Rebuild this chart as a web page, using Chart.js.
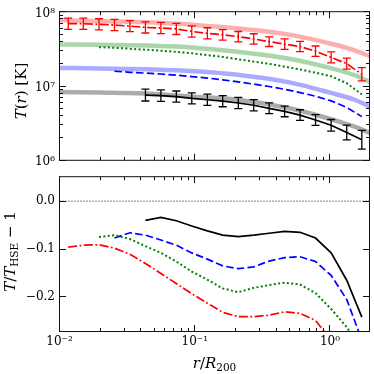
<!DOCTYPE html>
<html>
<head>
<meta charset="utf-8">
<script src="https://cdn.jsdelivr.net/npm/chart.js@4.4.1/dist/chart.umd.min.js"></script>
<style>
  html, body { margin: 0; padding: 0; background: #fff; }
  #wrap { position: relative; width: 374px; height: 374px; overflow: hidden; }
  #wrap canvas { position: absolute; left: 0; }
  #topo { top: 0; }
  #baixo { top: 165px; }
</style>
</head>
<body>
<div id="wrap">
  <canvas id="topo" width="374" height="172"></canvas>
  <canvas id="baixo" width="374" height="209"></canvas>
</div>
<script>
// ---------- data ----------

const xMin = 0.01
const xMax = 1.96

// radial bins (r / R200)
const radii = [0.0116, 0.0150, 0.0196, 0.0255, 0.0332, 0.0432, 0.0562, 0.0731, 0.0951, 0.124,
               0.161, 0.210, 0.273, 0.355, 0.462, 0.601, 0.782, 1.02, 1.33, 1.72]

// T(r) [K], measured profiles
const tempRed   = [6.89e7, 6.89e7, 6.76e7, 6.63e7, 6.39e7, 6.14e7, 6.04e7, 5.86e7, 5.42e7, 5.12e7,
                   4.88e7, 4.61e7, 4.30e7, 3.95e7, 3.66e7, 3.40e7, 2.94e7, 2.43e7, 2.00e7, 1.44e7]
const tempGreen = [null, null, 3.33e7, 3.27e7, 3.17e7, 3.08e7, 2.99e7, 2.88e7, 2.76e7, 2.61e7,
                   2.46e7, 2.29e7, 2.13e7, 1.99e7, 1.82e7, 1.67e7, 1.51e7, 1.35e7, 1.09e7, 7.7e6]
const tempBlue  = [null, null, null, 1.58e7, 1.53e7, 1.49e7, 1.45e7, 1.40e7, 1.34e7, 1.28e7,
                   1.21e7, 1.135e7, 1.06e7, 9.84e6, 9.02e6, 8.15e6, 7.28e6, 6.30e6, 5.15e6, 3.87e6]
const tempBlack = [null, null, null, null, null, 7.55e6, 7.41e6, 7.21e6, 6.81e6, 6.53e6,
                   6.25e6, 5.90e6, 5.51e6, 5.01e6, 4.55e6, 4.06e6, 3.48e6, 2.96e6, 2.37e6, 1.89e6]

// error bars, half size in dex
const errRed   = [0.075, 0.075, 0.075, 0.075, 0.075, 0.075, 0.075, 0.075, 0.075, 0.075,
                  0.07, 0.07, 0.07, 0.065, 0.07, 0.07, 0.07, 0.075, 0.075, 0.09]
const errBlack = [null, null, null, null, null, 0.08, 0.078, 0.075, 0.075, 0.075,
                  0.075, 0.075, 0.075, 0.072, 0.072, 0.072, 0.072, 0.078, 0.1, 0.125]

// hydrostatic model curves (thick pale lines)
const modelRadii = [0.01, 0.02, 0.05, 0.1, 0.2, 0.5, 1, 1.5, 2]
const modelRed   = [7.66e7, 7.45e7, 7.13e7, 6.63e7, 6.0e7, 4.91e7, 3.73e7, 3.05e7, 2.50e7]
const modelGreen = [3.63e7, 3.58e7, 3.48e7, 3.28e7, 2.92e7, 2.33e7, 1.75e7, 1.41e7, 1.12e7]
const modelBlue  = [1.75e7, 1.72e7, 1.67e7, 1.58e7, 1.43e7, 1.12e7, 8.15e6, 6.58e6, 5.22e6]
const modelBlack = [8.28e6, 8.15e6, 7.82e6, 7.16e6, 6.58e6, 5.01e6, 3.60e6, 2.86e6, 2.31e6]

// T / T_HSE - 1
const devRed   = [-0.096, -0.092, -0.091, -0.098, -0.111, -0.130, -0.151, -0.172, -0.193, -0.213,
                  -0.232, -0.241, -0.241, -0.238, -0.231, -0.234, -0.249, -0.29, null, null]
const devGreen = [null, null, -0.075, -0.071, -0.079, -0.094, -0.108, -0.126, -0.147, -0.164,
                  -0.182, -0.190, -0.181, -0.175, -0.170, -0.174, -0.192, -0.225, -0.263, -0.31]
const devBlue  = [null, null, null, -0.077, -0.066, -0.071, -0.081, -0.092, -0.108, -0.121,
                  -0.135, -0.141, -0.137, -0.125, -0.118, -0.116, -0.126, -0.155, -0.205, -0.29]
const devBlack = [null, null, null, null, null, -0.040, -0.034, -0.041, -0.052, -0.062,
                  -0.071, -0.074, -0.071, -0.067, -0.063, -0.065, -0.077, -0.108, -0.165, -0.242]

const zeroX = [xMin, xMax]
const zeroY = [0, 0]

// ticks
const xMajor  = [0.01, 0.1, 1]
const xLabels = ["10⁻²", "10⁻¹", "10⁰"]
const xMinor  = [0.02, 0.03, 0.04, 0.05, 0.06, 0.07, 0.08, 0.09, 0.2, 0.3, 0.4, 0.5, 0.6, 0.7, 0.8, 0.9]
const tMajor  = [1e6, 1e7, 1e8]
const tLabels = ["10⁶", "10⁷", "10⁸"]
const tMinor  = [2e6, 3e6, 4e6, 5e6, 6e6, 7e6, 8e6, 9e6, 2e7, 3e7, 4e7, 5e7, 6e7, 7e7, 8e7, 9e7]
const dMajor  = [-0.2, -0.1, 0]
const dLabels = ["−0.2", "−0.1", "0.0"]

const SERIF = "'DejaVu Serif', serif"

// ---------- plugins ----------

const px = v => Math.round(v - 0.5) + 0.5

// frame + inward ticks on the four sides
const frameTicks = {
  id: "frameTicks",
  afterDraw(chart, args, o) {
    const { ctx, chartArea: a, scales } = chart
    const sx = scales.x, sy = scales.y
    ctx.save()
    ctx.strokeStyle = "#111"
    ctx.lineWidth = 1
    ctx.setLineDash([])
    ctx.beginPath()
    const vtick = (v, len) => {
      const p = px(sx.getPixelForValue(v))
      ctx.moveTo(p, a.bottom); ctx.lineTo(p, a.bottom - len)
      ctx.moveTo(p, a.top);    ctx.lineTo(p, a.top + len)
    }
    const htick = (v, len) => {
      const p = px(sy.getPixelForValue(v))
      ctx.moveTo(a.left, p);  ctx.lineTo(a.left + len, p)
      ctx.moveTo(a.right, p); ctx.lineTo(a.right - len, p)
    }
    o.xMajor.forEach(v => vtick(v, 6.5))
    o.xMinor.forEach(v => vtick(v, 3.5))
    o.yMajor.forEach(v => htick(v, 6.5))
    ;(o.yMinor || []).forEach(v => htick(v, 3.5))
    ctx.stroke()
    ctx.strokeRect(a.left, a.top, a.right - a.left, a.bottom - a.top)
    ctx.restore()
  }
}

// vertical error bars with caps
const errorBars = {
  id: "errorBars",
  afterDatasetsDraw(chart) {
    const { ctx, scales: { x, y } } = chart
    chart.data.datasets.forEach(ds => {
      if (!ds.errDex) return
      ctx.save()
      ctx.strokeStyle = ds.borderColor
      ctx.lineWidth = 1.3
      ctx.setLineDash([])
      ds.data.forEach((p, i) => {
        if (p.y == null) return
        const e  = ds.errDex[i]
        const cx = x.getPixelForValue(p.x)
        const lo = y.getPixelForValue(p.y / Math.pow(10, e))
        const hi = y.getPixelForValue(p.y * Math.pow(10, e))
        ctx.beginPath()
        ctx.moveTo(cx, lo); ctx.lineTo(cx, hi)
        ctx.moveTo(cx - 4, lo); ctx.lineTo(cx + 4, lo)
        ctx.moveTo(cx - 4, hi); ctx.lineTo(cx + 4, hi)
        ctx.stroke()
      })
      ctx.restore()
    })
  }
}

// axis titles with italic letters and subscripts
function drawRich(ctx, parts, size) {
  const fontOf = p => `${p.i ? "italic " : ""}${p.sub ? size * 0.7 : size}px ${SERIF}`
  const widths = parts.map(p => { ctx.font = fontOf(p); return ctx.measureText(p.t).width })
  let cx = -widths.reduce((a, b) => a + b, 0) / 2
  parts.forEach((p, k) => {
    ctx.font = fontOf(p)
    ctx.fillText(p.t, cx, p.sub ? size * 0.24 : 0)
    cx += widths[k]
  })
}

const axisTitles = {
  id: "axisTitles",
  afterDraw(chart, args, o) {
    const ctx = chart.ctx
    o.items.forEach(it => {
      ctx.save()
      ctx.fillStyle = "#000"
      ctx.textAlign = "left"
      ctx.textBaseline = "alphabetic"
      ctx.translate(it.x, it.y)
      if (it.rot) ctx.rotate(-Math.PI / 2)
      drawRich(ctx, it.parts, it.size)
      ctx.restore()
    })
  }
}

// ---------- helpers ----------

const pts = (xs, ys) => xs.map((x, i) => ({ x, y: ys[i] }))

function dataLine(xs, ys, color, dash, width) {
  return { data: pts(xs, ys), borderColor: color, borderWidth: width || 1.7, borderDash: dash,
           pointRadius: 0, fill: false, tension: 0, clip: 0, order: 1 }
}

function modelLine(xs, ys, color) {
  return { data: pts(xs, ys), borderColor: color, borderWidth: 4.5, pointRadius: 0, fill: false,
           cubicInterpolationMode: "monotone", clip: 0, order: 2 }
}

const DASHDOT = [9, 2.5, 1.8, 2.5]
const DASHED  = [7.5, 3.3]
const DOTTED  = [2, 2.4]

const tickFont = { family: SERIF, size: 12 }

// ---------- top panel: T(r) ----------

const redData = dataLine(radii, tempRed, "#ff0000", DASHDOT)
redData.errDex = errRed
const blackData = dataLine(radii, tempBlack, "#000000", [])
blackData.errDex = errBlack

new Chart(document.getElementById("topo"), {
  type: "line",
  data: {
    datasets: [
      redData,
      dataLine(radii, tempGreen, "#008000", DOTTED, 2),
      dataLine(radii, tempBlue, "#0000ff", DASHED),
      blackData,
      modelLine(modelRadii, modelRed, "rgba(255,0,0,0.32)"),
      modelLine(modelRadii, modelGreen, "rgba(0,128,0,0.33)"),
      modelLine(modelRadii, modelBlue, "rgba(0,0,255,0.33)"),
      modelLine(modelRadii, modelBlack, "rgba(0,0,0,0.33)")
    ]
  },
  options: {
    animation: false, responsive: false, maintainAspectRatio: false,
    layout: { padding: { top: 10.5, right: 4.5, bottom: 0.5, left: 0 } },
    plugins: {
      legend: { display: false }, tooltip: { enabled: false },
      frameTicks: { xMajor, xMinor, yMajor: tMajor, yMinor: tMinor },
      axisTitles: { items: [
        { x: 25.5, y: 91, rot: true, size: 15,
          parts: [{ t: "T", i: 1 }, { t: "(" }, { t: "r", i: 1 }, { t: ") [K]" }] }
      ] }
    },
    scales: {
      x: { type: "logarithmic", min: xMin, max: xMax, display: false },
      y: {
        type: "logarithmic", min: 1e6, max: 1e8,
        afterBuildTicks: s => { s.ticks = tMajor.map(v => ({ value: v })) },
        afterFit: s => { s.width = 59.5 },
        ticks: { callback: (v, i) => tLabels[i], autoSkip: false, padding: 4.5, labelOffset: 2,
                 color: "#000", font: tickFont },
        grid: { display: false, drawTicks: false },
        border: { display: false }
      }
    }
  },
  plugins: [errorBars, frameTicks, axisTitles]
})

// ---------- bottom panel: T/T_HSE - 1 ----------

new Chart(document.getElementById("baixo"), {
  type: "line",
  data: {
    datasets: [
      dataLine(zeroX, zeroY, "#000000", [1, 2], 1),
      dataLine(radii, devRed, "#ff0000", DASHDOT),
      dataLine(radii, devGreen, "#008000", DOTTED, 2),
      dataLine(radii, devBlue, "#0000ff", DASHED),
      dataLine(radii, devBlack, "#000000", [])
    ]
  },
  options: {
    animation: false, responsive: false, maintainAspectRatio: false,
    layout: { padding: { top: 6.5, right: 4.5, bottom: 0, left: 0 } },
    plugins: {
      legend: { display: false }, tooltip: { enabled: false },
      frameTicks: { xMajor, xMinor, yMajor: dMajor },
      axisTitles: { items: [
        { x: 14.5, y: 86.5, rot: true, size: 15,
          parts: [{ t: "T", i: 1 }, { t: "/" }, { t: "T", i: 1 }, { t: "HSE", sub: 1 }, { t: " − 1" }] },
        { x: 214.5, y: 202.5, rot: false, size: 15,
          parts: [{ t: "r", i: 1 }, { t: "/" }, { t: "R", i: 1 }, { t: "200", sub: 1 }] }
      ] }
    },
    scales: {
      x: {
        type: "logarithmic", min: xMin, max: xMax,
        afterBuildTicks: s => { s.ticks = xMajor.map(v => ({ value: v })) },
        afterFit: s => { s.height = 42.5 },
        ticks: { callback: (v, i) => xLabels[i], autoSkip: false, maxRotation: 0, padding: 3,
                 color: "#000", font: tickFont },
        grid: { display: false, drawTicks: false },
        border: { display: false }
      },
      y: {
        type: "linear", min: -0.272, max: 0.051,
        afterBuildTicks: s => { s.ticks = dMajor.map(v => ({ value: v })) },
        afterFit: s => { s.width = 59.5 },
        ticks: { callback: (v, i) => dLabels[i], autoSkip: false, padding: 4.5,
                 color: "#000", font: tickFont },
        grid: { display: false, drawTicks: false },
        border: { display: false }
      }
    }
  },
  plugins: [frameTicks, axisTitles]
})
</script>
</body>
</html>
